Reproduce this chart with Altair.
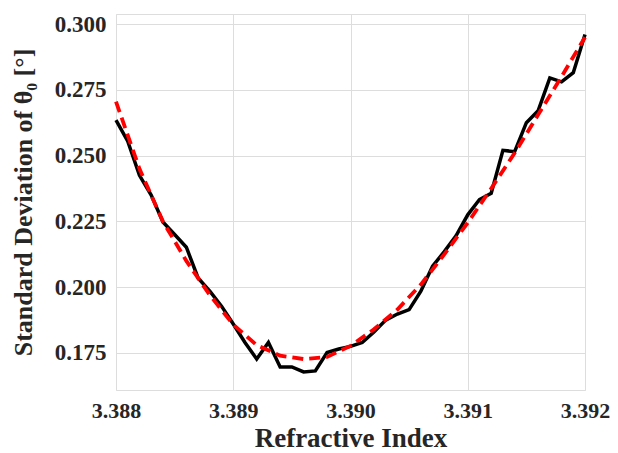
import altair as alt
import pandas as pd

# Measured curve (black)
x_data = [3.3880, 3.3881, 3.3882, 3.3883, 3.3884, 3.3885, 3.3886, 3.3887, 3.3888, 3.3889,
          3.3890, 3.3891, 3.3892, 3.3893, 3.3894, 3.3895, 3.3896, 3.3897, 3.3898, 3.3899,
          3.3900, 3.3901, 3.3902, 3.3903, 3.3904, 3.3905, 3.3906, 3.3907, 3.3908, 3.3909,
          3.3910, 3.3911, 3.3912, 3.3913, 3.3914, 3.3915, 3.3916, 3.3917, 3.3918, 3.3919,
          3.3920]
y_data = [0.2635, 0.2555, 0.2425, 0.2350, 0.2248, 0.2200, 0.2152, 0.2035, 0.1985, 0.1928,
          0.1860, 0.1790, 0.1727, 0.1790, 0.1697, 0.1697, 0.1678, 0.1682, 0.1752, 0.1765,
          0.1775, 0.1790, 0.1830, 0.1875, 0.1898, 0.1915, 0.1985, 0.2080, 0.2135, 0.2195,
          0.2275, 0.2333, 0.2357, 0.2520, 0.2515, 0.2625, 0.2670, 0.2795, 0.2780, 0.2815,
          0.2960]

# Fitted curve (red dashed)
x_fit = [3.3880, 3.3882, 3.3884, 3.3886, 3.3888, 3.3890, 3.3892, 3.3894, 3.3896, 3.3898,
         3.3900, 3.3902, 3.3904, 3.3906, 3.3908, 3.3910, 3.3912, 3.3914, 3.3916, 3.3918,
         3.3920]
y_fit = [0.2705, 0.2450, 0.2250, 0.2100, 0.1970, 0.1858, 0.1780, 0.1740, 0.1727, 0.1735,
         0.1777, 0.1840, 0.1915, 0.2010, 0.2125, 0.2245, 0.2375, 0.2510, 0.2655, 0.2800,
         0.2950]

x_ticks = [3.388, 3.389, 3.390, 3.391, 3.392]
y_ticks = [0.175, 0.200, 0.225, 0.250, 0.275, 0.300]

df_data = pd.DataFrame({"x": x_data, "y": y_data})
df_fit = pd.DataFrame({"x": x_fit, "y": y_fit})

FONT = "Liberation Serif"
TXT = "#262626"

xs = alt.Scale(domain=[3.388, 3.392], nice=False, zero=False)
ys = alt.Scale(domain=[0.16094, 0.3038], nice=False, zero=False)

xax = alt.Axis(values=x_ticks, format=".3f", title="Refractive Index",
               grid=True, domain=False, ticks=False, labelPadding=10,
               labelFontSize=22, labelFont=FONT, labelFontWeight="bold", labelColor=TXT,
               titleFontSize=27, titleFont=FONT, titleFontWeight="bold", titleColor=TXT,
               titlePadding=4, labelFlush=False)
yax = alt.Axis(values=y_ticks, format=".3f", title="Standard Deviation of θ₀ [°]",
               grid=True, domain=False, ticks=False, labelPadding=10,
               labelFontSize=23, labelFont=FONT, labelFontWeight="bold", labelColor=TXT,
               titleFontSize=26, titleFont=FONT, titleFontWeight="bold", titleColor=TXT,
               titlePadding=18, labelFlush=False)

black = alt.Chart(df_data).mark_line(color="black", strokeWidth=3.5).encode(
    x=alt.X("x:Q", scale=xs, axis=xax),
    y=alt.Y("y:Q", scale=ys, axis=yax),
)
red = alt.Chart(df_fit).mark_line(color="#ff0000", strokeWidth=3.8, strokeDash=[11, 6]).encode(
    x=alt.X("x:Q", scale=xs),
    y=alt.Y("y:Q", scale=ys),
)

chart = alt.layer(black, red).properties(
    width=469, height=376,
    autosize=alt.AutoSizeParams(type="none"),
    padding={"left": 108, "top": 6, "right": 25, "bottom": 63},
).configure_view(
    stroke="#cccccc", strokeWidth=2.5
).configure_axis(
    gridColor="#cccccc", gridWidth=2.5, gridOpacity=1
).configure(background="white")

chart.save("out.html", embed_options={"renderer": "svg", "actions": False})
